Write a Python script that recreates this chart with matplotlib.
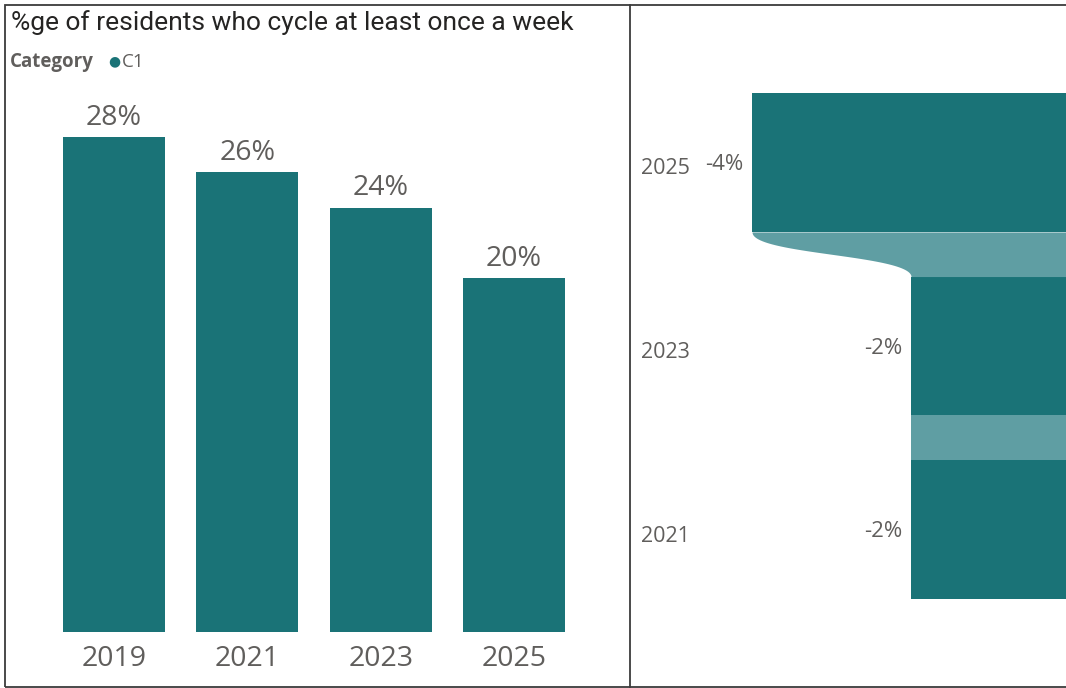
import matplotlib
matplotlib.use('Agg')
import matplotlib.pyplot as plt
from matplotlib.patches import Rectangle
from matplotlib.transforms import ScaledTranslation
import numpy as np

# data
years = ['2019', '2021', '2023', '2025']
share = [28, 26, 24, 20]

change_years = ['2025', '2023', '2021']
change = [-4, -2, -2]

dark = '#1a7377'
light = '#5f9ea3'
grey = '#605e5c'

W, H = 1066, 688
fig = plt.figure(figsize=(W / 100, H / 100), dpi=100)


def px_axes(x0, y0, x1, y1):
    # axes from pixel box (top-left origin)
    return fig.add_axes([x0 / W, 1 - y1 / H, (x1 - x0) / W, (y1 - y0) / H])


# frame lines
fig.add_artist(Rectangle((5 / W, 1 - 687 / H), (W + 5) / W, 682 / H, transform=fig.transFigure,
                         fill=False, edgecolor='#3c3c3c', lw=1.3))
fig.add_artist(plt.Line2D([630 / W, 630 / W], [1 - 687 / H, 1 - 5 / H], transform=fig.transFigure,
                          color='#3c3c3c', lw=1.3))

# title and legend
fig.text(11 / W, 1 - 23 / H, '%ge of residents who cycle at least once a week', fontsize=19,
         family='Roboto', color='#252423', va='center', ha='left')
fig.text(10 / W, 1 - 62 / H, 'Category', fontsize=13.5, family='Open Sans', fontweight='bold',
         color=grey, va='center', ha='left')
fig.text(108 / W, 1 - 61 / H, '\u25cf', fontsize=10, family='DejaVu Sans', color=dark, va='center', ha='left')
fig.text(122 / W, 1 - 62 / H, 'C1', fontsize=13.5, family='Open Sans', color=grey, va='center', ha='left')

# left: column chart
scale = 17.68  # px per percent
ax1 = px_axes(47.35, 90, 580.65, 632)
x = np.arange(len(years))
bars = ax1.bar(x, share, width=0.765, color=dark)
ax1.set_xlim(-0.5, len(years) - 0.5)
ax1.set_ylim(0, 542 / scale)
for b, v in zip(bars, share):
    ax1.text(b.get_x() + b.get_width() / 2, v + 0.3, f'{v}%', ha='center', va='bottom',
             fontsize=20.5, family='Open Sans', color=grey)
ax1.set_xticks(x)
ax1.set_xticklabels(years, fontsize=20.5, family='Open Sans', color=grey)
ax1.tick_params(axis='x', length=0, pad=9)
ax1.set_yticks([])
for s in ax1.spines.values():
    s.set_visible(False)
ax1.patch.set_alpha(0)

# right: change bars, clipped at the edge
unit = 79.5  # px per percent point
zero_px = 1070
ax2 = px_axes(630, 70.75, 1066, 621.25)
y = np.arange(len(change_years))
bh = 0.757
ax2.barh(y, change, height=bh, color=dark)
ax2.set_xlim(-(zero_px - 630) / unit, -(zero_px - 1066) / unit)
ax2.set_ylim(len(change_years) - 0.5, -0.5)

# light connector bands between bars
for i in range(len(change) - 1):
    y_top = y[i] + bh / 2
    y_bot = y[i + 1] - bh / 2
    ym = (y_top + y_bot) / 2
    t = np.linspace(0, 1, 60)
    xs = (1 - t) ** 3 * change[i] + 3 * (1 - t) ** 2 * t * change[i] + 3 * (1 - t) * t ** 2 * change[i + 1] + t ** 3 * change[i + 1]
    ys = (1 - t) ** 3 * y_top + 3 * (1 - t) ** 2 * t * ym + 3 * (1 - t) * t ** 2 * ym + t ** 3 * y_bot
    ax2.fill_betweenx(ys, xs, 0, color=light, lw=0)

for yi, v in zip(y, change):
    ax2.text(v - 0.11, yi + 0.012, f'{v}%', ha='right', va='center', fontsize=16, family='Open Sans', color=grey)
ax2.set_yticks(y)
ax2.set_yticklabels(change_years, fontsize=15.5, family='Open Sans', color=grey)
ax2.tick_params(axis='y', length=0, pad=0)
for lbl in ax2.get_yticklabels():
    lbl.set_ha('left')
    # move year labels inside the panel
    lbl.set_transform(lbl.get_transform() + ScaledTranslation(11 / 100, -4 / 100, fig.dpi_scale_trans))
ax2.set_xticks([])
for s in ax2.spines.values():
    s.set_visible(False)
ax2.patch.set_alpha(0)

fig.savefig('out.png', dpi=100)
